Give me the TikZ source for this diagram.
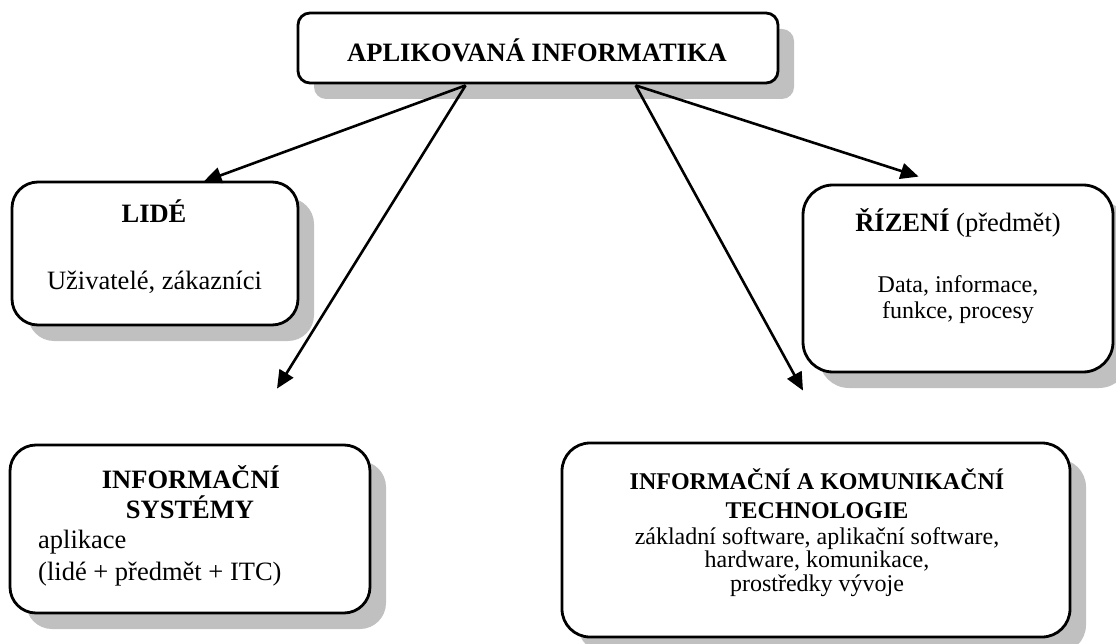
\documentclass[tikz,border=0pt]{standalone}
\usepackage{fontspec}
\setmainfont{Liberation Serif}
\usetikzlibrary{arrows.meta,calc,shadows}
\definecolor{shadowgray}{RGB}{192,192,192}
\newcommand{\bigtxt}{\fontsize{26.5}{30}\selectfont}
\newcommand{\smalltxt}{\fontsize{24}{25}\selectfont}
\begin{document}
\begin{tikzpicture}[x=1pt,y=-1pt,
  panel/.style={draw, line width=2.8pt, fill=white, inner sep=0pt,
    drop shadow={shadow xshift=16pt, shadow yshift=-16pt, fill=shadowgray, opacity=1}},
  lbl/.style={inner sep=0pt, anchor=base, font=\bigtxt},
  sml/.style={inner sep=0pt, anchor=base, font=\smalltxt},
  link/.style={line width=2.6pt, -{Triangle[length=18pt,width=16pt]}}]
\useasboundingbox (0,0) rectangle (1116,644);

% boxes
\node[panel, rounded corners=12pt, minimum width=480pt, minimum height=70pt] (ai) at (538,48) {};
\node[panel, rounded corners=26pt, minimum width=286pt, minimum height=143pt] (lide) at (155,253.5) {};
\node[panel, rounded corners=30pt, minimum width=310pt, minimum height=187pt] (rizeni) at (958,278.5) {};
\node[panel, rounded corners=26pt, minimum width=360pt, minimum height=168pt] (is) at (190,529) {};
\node[panel, rounded corners=28pt, minimum width=508pt, minimum height=194pt] (ict) at (816,540) {};

% texts
\node[lbl] (tai) at (537,62) {\textbf{APLIKOVANÁ INFORMATIKA}};

\node[lbl] (tlide) at (154,223) {\textbf{LIDÉ}};
\node[lbl] (tlide2) at (154.5,290) {Uživatelé, zákazníci};

\node[lbl] (triz) at (958,232) {\textbf{ŘÍZENÍ} (předmět)};
\node[sml] (triz2) at (958,293) {Data, informace,};
\node[sml] (triz3) at (958,318) {funkce, procesy};

\node[lbl] (tis1) at (191,488) {\textbf{INFORMAČNÍ}};
\node[lbl] (tis2) at (190,518) {\textbf{SYSTÉMY}};
\node[lbl, anchor=base west] (tis3) at (38,548) {aplikace};
\node[lbl, anchor=base west] (tis4) at (38,580) {(lidé + předmět + ITC)};

\node[sml] (tict1) at (817,489) {\textbf{INFORMAČNÍ A KOMUNIKAČNÍ}};
\node[sml] (tict2) at (817,518) {\textbf{TECHNOLOGIE}};
\node[sml] (tict3) at (817,544) {základní software, aplikační software,};
\node[sml] (tict4) at (817,567) {hardware, komunikace,};
\node[sml] (tict5) at (817,591) {prostředky vývoje};

% connector end points
\coordinate (s1) at ($(ai.south west)+(169,1)$);
\coordinate (s2) at ($(ai.south west)+(339,1)$);
\coordinate (e1) at ($(lide.north west)+(193,1)$);
\coordinate (e2) at ($(is.north)+(87,-55)$);
\coordinate (e3) at ($(ict.north)+(-13,-51)$);
\coordinate (e4) at ($(rizeni.north west)+(117,-7)$);

% connectors
\draw[link] (s1) -- (e1);
\draw[link] (s1) -- (e2);
\draw[link] (s2) -- (e3);
\draw[link] (s2) -- (e4);
\end{tikzpicture}
\end{document}
